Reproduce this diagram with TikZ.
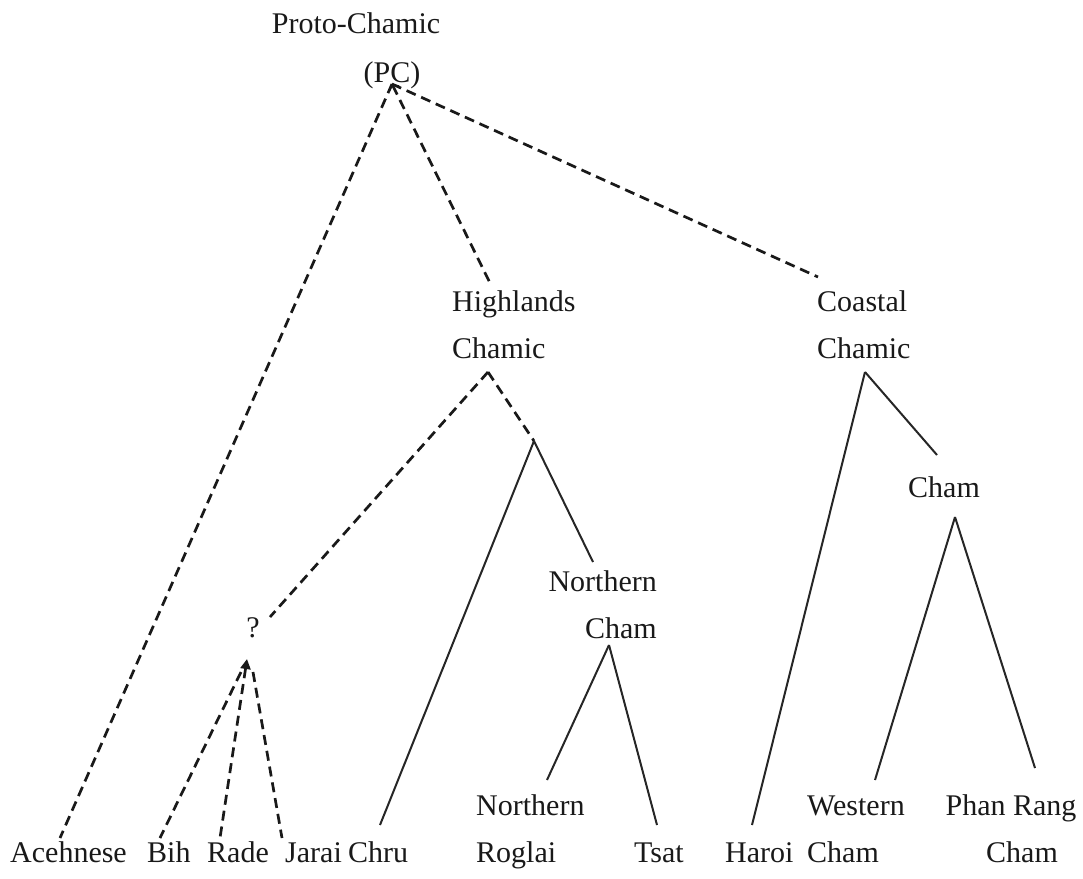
\documentclass[tikz,border=0pt]{standalone}
\usepackage{fontspec}
\setmainfont{Liberation Serif}
\usetikzlibrary{arrows.meta}

\begin{document}
\begin{tikzpicture}[
    x=1pt, y=-1pt,
    lang/.style={inner sep=0pt, font=\fontsize{30}{47}\selectfont, text=black!90},
    broken/.style={dash pattern=on 10pt off 6pt, line width=2.7pt, black!90},
    branch/.style={line width=2pt, black!85}
]
    \useasboundingbox (0,0) rectangle (1083,878);

    % Language labels (base = last line)
    \node[lang, anchor=base] (proto) at (356,33) {Proto-Chamic};
    \node[lang, anchor=base] (pc) at (392,82) {(PC)};
    \node[lang, anchor=base west, align=left] (high) at (452,358) {Highlands\\Chamic};
    \node[lang, anchor=base west, align=left] (coast) at (817,358) {Coastal\\Chamic};
    \node[lang, anchor=base west] (cham) at (908,497) {Cham};
    \node[lang, anchor=base east, align=right] (ncham) at (657,638) {Northern\\Cham};
    \node[lang, anchor=base] (unknown) at (253,637) {?};
    \node[lang, anchor=base west] (aceh) at (10,862) {Acehnese};
    \node[lang, anchor=base west] (bih) at (147,862) {Bih};
    \node[lang, anchor=base west] (rade) at (207,862) {Rade};
    \node[lang, anchor=base west] (jarai) at (285,862) {Jarai};
    \node[lang, anchor=base west] (chru) at (348,862) {Chru};
    \node[lang, anchor=base west, align=left] (roglai) at (476,862) {Northern\\Roglai};
    \node[lang, anchor=base west] (tsat) at (634,862) {Tsat};
    \node[lang, anchor=base west] (haroi) at (725,862) {Haroi};
    \node[lang, anchor=base west, align=left] (wcham) at (807,862) {Western\\Cham};
    \node[lang, anchor=base, align=center] (prcham) at (1011,862) {Phan Rang\\\hspace*{22pt}Cham};

    % Junctions and line ends
    \coordinate (pc-tip) at (392,84);
    \coordinate (high-tip) at (488,372);
    \coordinate (hsub) at (534,441);
    \coordinate (nc-tip) at (609,645);
    \coordinate (q-tip) at (247,659);
    \coordinate (q-left) at (241,672);
    \coordinate (q-right) at (253,672);
    \coordinate (coast-tip) at (865,372);
    \coordinate (cham-tip) at (955,517);
    \coordinate (high-top) at (490,283);
    \coordinate (coast-top) at (818,277);
    \coordinate (cham-top) at (937,455);
    \coordinate (nc-top) at (593,562);
    \coordinate (q-top) at (270,617);
    \coordinate (aceh-top) at (60,838);
    \coordinate (bih-top) at (160,838);
    \coordinate (rade-top) at (220,838);
    \coordinate (jarai-top) at (282,838);
    \coordinate (chru-top) at (380,825);
    \coordinate (roglai-top) at (547,780);
    \coordinate (tsat-top) at (657,825);
    \coordinate (haroi-top) at (752,825);
    \coordinate (wcham-top) at (875,780);
    \coordinate (prcham-top) at (1035,768);

    % Dashed branches
    \draw[broken] (pc-tip) -- (aceh-top);
    \draw[broken, {Straight Barb[length=4pt, width=11pt, line width=1.6pt]}-] (pc-tip) -- (high-top);
    \draw[broken] (pc-tip) -- (coast-top);
    \draw[broken] (high-tip) -- (q-top);
    \draw[broken] (high-tip) -- (hsub);
    \draw[broken] (q-left) -- (bih-top);
    \draw[broken, {Triangle[length=10pt, width=10pt]}-] (q-tip) -- (rade-top);
    \draw[broken] (q-right) -- (jarai-top);

    % Solid branches
    \draw[branch] (hsub) -- (chru-top);
    \draw[branch] (hsub) -- (nc-top);
    \draw[branch] (nc-tip) -- (roglai-top);
    \draw[branch] (nc-tip) -- (tsat-top);
    \draw[branch] (coast-tip) -- (haroi-top);
    \draw[branch] (coast-tip) -- (cham-top);
    \draw[branch] (cham-tip) -- (wcham-top);
    \draw[branch] (cham-tip) -- (prcham-top);
\end{tikzpicture}
\end{document}
